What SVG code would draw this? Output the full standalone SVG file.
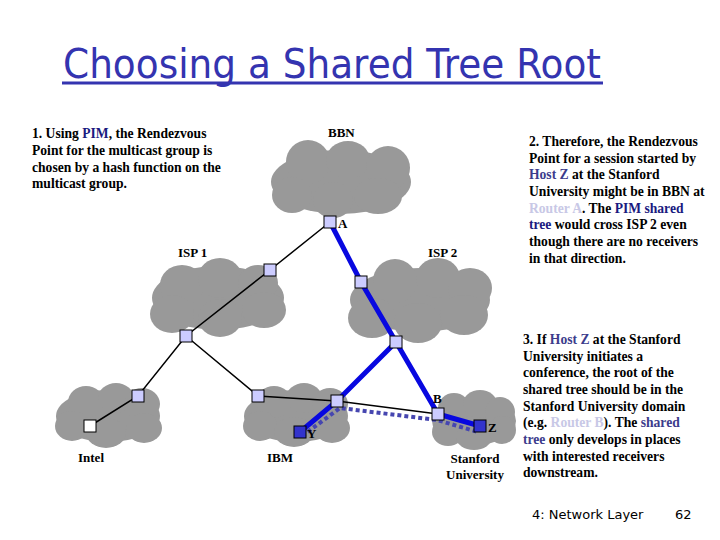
<svg xmlns="http://www.w3.org/2000/svg" width="720" height="540" viewBox="0 0 720 540">
<style>
.t{font-family:"Liberation Serif","Times New Roman",serif;font-size:13.6px;font-weight:bold;fill:#000}
.lbl{font-family:"Liberation Serif","Times New Roman",serif;font-size:13px;font-weight:bold;fill:#000}
.navy{fill:#1a1a80}
.hz{fill:#3c3c8c}
.lt{fill:#c8c8e6}
.cloud ellipse{fill:#999999}
.rt{fill:#ccccff;stroke:#000;stroke-width:1}
.host{fill:#3333cc;stroke:#000;stroke-width:1}
.blk{stroke:#000;stroke-width:1.5;fill:none}
.blu{stroke:#0808e0;stroke-width:5;fill:none;stroke-linecap:butt}
.dash{stroke:#4646b0;stroke-width:4;fill:none;stroke-dasharray:4 3}
.foot{font-family:"DejaVu Sans",sans-serif;font-size:13px;fill:#000}
</style>
<rect width="720" height="540" fill="#fff"/>

<g id="title">
<text x="63" y="78" font-family="DejaVu Sans, sans-serif" font-size="40" fill="#3434b0" textLength="538" lengthAdjust="spacingAndGlyphs">Choosing a Shared Tree Root</text>
<rect x="62" y="81.5" width="541" height="3" fill="#3434b0"/>
</g>

<g id="cloud-bbn" class="cloud">
<ellipse cx="341" cy="182" rx="70" ry="32"/>
<ellipse cx="308" cy="162" rx="22" ry="22"/>
<ellipse cx="348" cy="160" rx="22" ry="19"/>
<ellipse cx="388" cy="168" rx="22" ry="22"/>
<ellipse cx="292" cy="195" rx="20" ry="18"/>
<ellipse cx="333" cy="200" rx="20" ry="18"/>
<ellipse cx="378" cy="196" rx="24" ry="18"/>
<text class="lbl" x="328" y="137">BBN</text>
</g>

<g id="cloud-isp1" class="cloud">
<ellipse cx="218" cy="298" rx="66" ry="32"/>
<ellipse cx="182" cy="285" rx="22" ry="20"/>
<ellipse cx="220" cy="278" rx="22" ry="20"/>
<ellipse cx="258" cy="283" rx="20" ry="18"/>
<ellipse cx="172" cy="314" rx="22" ry="19"/>
<ellipse cx="220" cy="318" rx="22" ry="19"/>
<ellipse cx="264" cy="310" rx="22" ry="18"/>
<text class="lbl" x="178" y="257">ISP 1</text>
</g>

<g id="cloud-isp2" class="cloud">
<ellipse cx="420" cy="300" rx="70" ry="32"/>
<ellipse cx="395" cy="281" rx="22" ry="22"/>
<ellipse cx="438" cy="278" rx="22" ry="20"/>
<ellipse cx="470" cy="288" rx="22" ry="20"/>
<ellipse cx="372" cy="318" rx="24" ry="20"/>
<ellipse cx="418" cy="323" rx="24" ry="20"/>
<ellipse cx="464" cy="315" rx="24" ry="20"/>
<text class="lbl" x="428" y="257">ISP 2</text>
</g>

<g id="cloud-intel" class="cloud">
<ellipse cx="108" cy="416" rx="52" ry="26"/>
<ellipse cx="86" cy="402" rx="18" ry="16"/>
<ellipse cx="116" cy="398" rx="18" ry="15"/>
<ellipse cx="142" cy="404" rx="18" ry="16"/>
<ellipse cx="72" cy="426" rx="17" ry="15"/>
<ellipse cx="106" cy="433" rx="20" ry="15"/>
<ellipse cx="144" cy="428" rx="18" ry="15"/>
<text class="lbl" x="78" y="462">Intel</text>
</g>

<g id="cloud-ibm" class="cloud">
<ellipse cx="296" cy="416" rx="52" ry="26"/>
<ellipse cx="274" cy="402" rx="18" ry="16"/>
<ellipse cx="304" cy="398" rx="18" ry="15"/>
<ellipse cx="330" cy="404" rx="18" ry="16"/>
<ellipse cx="260" cy="426" rx="17" ry="15"/>
<ellipse cx="294" cy="432" rx="20" ry="15"/>
<ellipse cx="332" cy="428" rx="18" ry="15"/>
<text class="lbl" x="267" y="462">IBM</text>
</g>

<g id="cloud-stanford" class="cloud">
<ellipse cx="474" cy="421" rx="42" ry="24"/>
<ellipse cx="454" cy="408" rx="16" ry="15"/>
<ellipse cx="480" cy="404" rx="17" ry="14"/>
<ellipse cx="500" cy="412" rx="15" ry="15"/>
<ellipse cx="448" cy="432" rx="16" ry="14"/>
<ellipse cx="474" cy="437" rx="18" ry="13"/>
<ellipse cx="502" cy="430" rx="14" ry="14"/>
<text class="lbl" x="475" y="463" text-anchor="middle">Stanford</text>
<text class="lbl" x="475" y="479" text-anchor="middle">University</text>
</g>

<g id="connectors">
<path class="blk" d="M330,222 L270,270 L186,336 L138,396 L90,426"/>
<path class="blk" d="M186,336 L258,396 L337,401 L438,414"/>
<path class="dash" d="M302,436 L340,408 L437,420 L478,432"/>
<path class="blu" d="M330,222 L361,282 L396,342 L438,414 L480,426"/>
<path class="blu" d="M396,342 L337,401 L300,432"/>
</g>

<g id="router-A"><rect class="rt" x="324" y="216" width="12" height="12"/><text class="lbl" x="338" y="228">A</text></g>
<g id="router-isp1-a"><rect class="rt" x="264" y="264" width="12" height="12"/></g>
<g id="router-isp1-b"><rect class="rt" x="180" y="330" width="12" height="12"/></g>
<g id="router-isp2-a"><rect class="rt" x="355" y="276" width="12" height="12"/></g>
<g id="router-isp2-b"><rect class="rt" x="390" y="336" width="12" height="12"/></g>
<g id="router-intel"><rect class="rt" x="132" y="390" width="12" height="12"/></g>
<g id="host-intel"><rect x="84" y="420" width="12" height="12" fill="#fff" stroke="#000"/></g>
<g id="router-ibm-a"><rect class="rt" x="252" y="390" width="12" height="12"/></g>
<g id="router-ibm-b"><rect class="rt" x="331" y="395" width="12" height="12"/></g>
<g id="host-Y"><rect class="host" x="294" y="426" width="12" height="12"/><text class="lbl" x="307" y="438">Y</text></g>
<g id="router-B"><rect class="rt" x="432" y="408" width="12" height="12"/><text class="lbl" x="433" y="403">B</text></g>
<g id="host-Z"><rect class="host" x="474" y="420" width="12" height="12"/><text class="lbl" x="488" y="432">Z</text></g>

<g id="note1" class="t">
<text x="32" y="138">1. Using <tspan class="navy">PIM</tspan>, the Rendezvous</text>
<text x="32" y="155">Point for the multicast group is</text>
<text x="32" y="171.5">chosen by a hash function on the</text>
<text x="32" y="188">multicast group.</text>
</g>

<g id="note2" class="t">
<text x="529" y="146">2. Therefore, the Rendezvous</text>
<text x="529" y="162.5">Point for a session started by</text>
<text x="529" y="179"><tspan class="hz">Host Z</tspan> at the Stanford</text>
<text x="529" y="196">University might be in BBN at</text>
<text x="529" y="212.5"><tspan class="lt">Router A</tspan>. The <tspan class="navy">PIM shared</tspan></text>
<text x="529" y="229"><tspan class="navy">tree</tspan> would cross ISP 2 even</text>
<text x="529" y="246">though there are no receivers</text>
<text x="529" y="262.5">in that direction.</text>
</g>

<g id="note3" class="t">
<text x="523" y="344">3. If <tspan class="hz">Host Z</tspan> at the Stanford</text>
<text x="523" y="360.5">University initiates a</text>
<text x="523" y="377">conference, the root of the</text>
<text x="523" y="394">shared tree should be in the</text>
<text x="523" y="410.5">Stanford University domain</text>
<text x="523" y="427">(e.g. <tspan class="lt">Router B</tspan>). The <tspan class="hz">shared</tspan></text>
<text x="523" y="444"><tspan class="hz">tree</tspan> only develops in places</text>
<text x="523" y="460.5">with interested receivers</text>
<text x="523" y="477">downstream.</text>
</g>

<g id="footer">
<text class="foot" x="532" y="519">4: Network Layer</text>
<text class="foot" x="675" y="519">62</text>
</g>
</svg>
